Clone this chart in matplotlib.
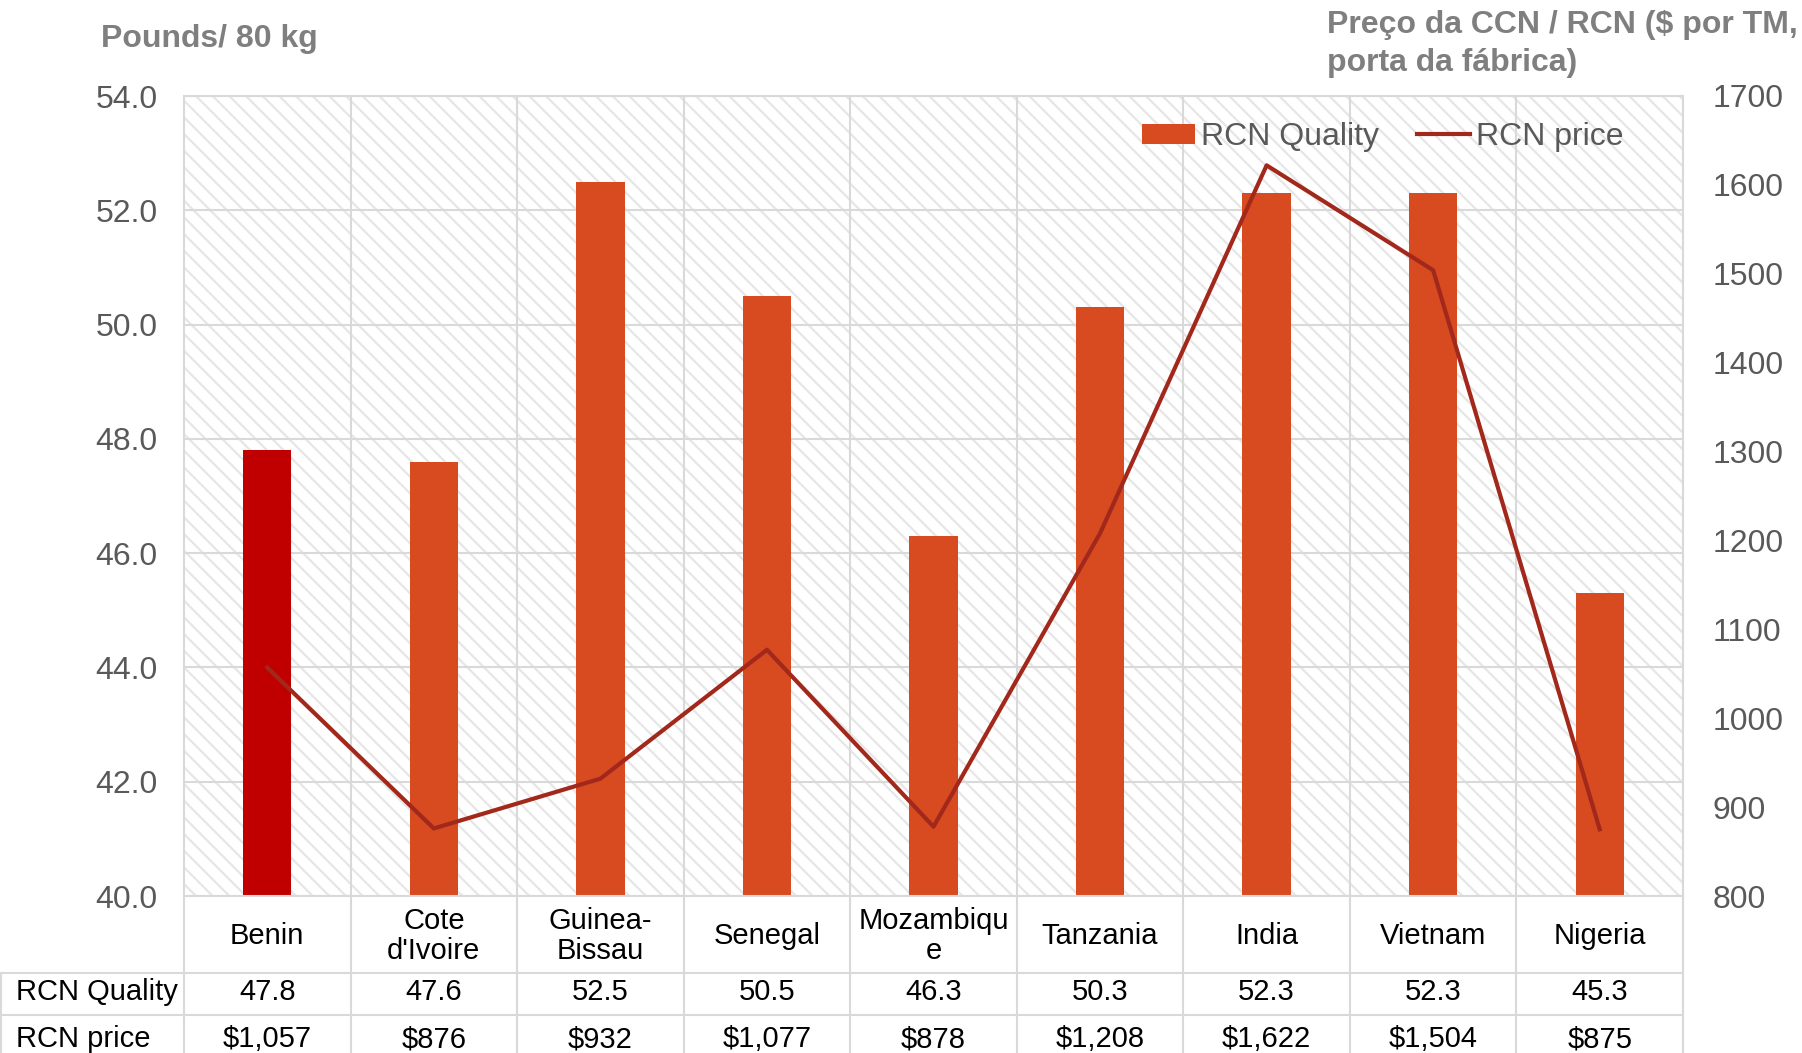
import numpy as np
import matplotlib
matplotlib.use("Agg")
import matplotlib.pyplot as plt
import matplotlib.transforms as mtransforms
from matplotlib.patches import Rectangle, Patch
from matplotlib.lines import Line2D

plt.rcParams['font.family'] = ['Liberation Sans', 'DejaVu Sans']
plt.rcParams['hatch.linewidth'] = 1.6

countries = ["Benin", "Cote\nd'Ivoire", "Guinea-\nBissau", "Senegal", "Mozambiqu\ne",
             "Tanzania", "India", "Vietnam", "Nigeria"]
quality = [47.8, 47.6, 52.5, 50.5, 46.3, 50.3, 52.3, 52.3, 45.3]
price = [1057, 876, 932, 1077, 878, 1208, 1622, 1504, 875]
row_names = ["RCN Quality", "RCN price"]

BAR_COL = '#D84A20'
HIGHLIGHT = '#C00000'
LINE_COL = '#A3281C'
GRID = '#d9d9d9'
TICK_COL = '#595959'
FS = 23
FS_TAB = 21

fig = plt.figure(figsize=(18.02, 10.53), dpi=100)
W, H = 1802, 1053
left, right, top, bottom = 184, 1683, 96, 896
ax = fig.add_axes([left / W, 1 - bottom / H, (right - left) / W, (bottom - top) / H])

x = np.arange(len(countries))

# hatched background
bg = Rectangle((0, 0), 1, 1, transform=ax.transAxes, facecolor='white',
               edgecolor='#e6e6e6', hatch='\\\\', lw=0, zorder=0)
ax.add_patch(bg)
ax.patch.set_visible(False)

colors = [HIGHLIGHT] + [BAR_COL] * (len(countries) - 1)
ax.bar(x, quality, width=0.29, color=colors, zorder=2)
ax.set_xlim(-0.5, len(countries) - 0.5)
ax.set_ylim(40, 54)
ax.set_yticks(np.arange(40, 54.1, 2))
ax.set_yticklabels([f"{v:.1f}" for v in np.arange(40, 54.1, 2)])
ax.set_xticks([])
ax.set_xticks(np.arange(0.5, len(countries) - 0.5, 1), minor=True)
ax.grid(axis='y', which='major', color=GRID, lw=1.5, zorder=1)
ax.grid(axis='x', which='minor', color=GRID, lw=1.5, zorder=1)
ax.set_axisbelow(True)
ax.tick_params(axis='y', length=0, pad=19, labelsize=FS, labelcolor=TICK_COL)
ax.tick_params(axis='x', which='both', length=0)
for s in ax.spines.values():
    s.set_color(GRID)
    s.set_linewidth(1.5)

ax2 = ax.twinx()
line, = ax2.plot(x, price, color=LINE_COL, lw=3, zorder=3)
ax2.set_ylim(800, 1700)
ax2.set_yticks(np.arange(800, 1701, 100))
ax2.tick_params(axis='y', length=0, pad=21, labelsize=FS, labelcolor=TICK_COL)
for s in ax2.spines.values():
    s.set_visible(False)

bar_handle = Patch(facecolor=BAR_COL)
ax2.legend([bar_handle, line], ["RCN Quality", "RCN price"], loc='center right',
           bbox_to_anchor=(1624 / W, 1 - 137 / H), bbox_transform=fig.transFigure,
           ncol=2, frameon=False, fontsize=FS, labelcolor=TICK_COL,
           handlelength=1.65, handleheight=0.6, handletextpad=0.2,
           columnspacing=1.2, borderaxespad=0, borderpad=0)

# axis titles
fig.text(101 / W, 1 - 39 / H, "Pounds/ 80 kg", fontsize=FS, fontweight='bold',
         color='#7f7f7f', va='center', ha='left')
fig.text(1327 / W, 1 - 10 / H, "Preço da CCN / RCN ($ por TM,\nporta da fábrica)",
         fontsize=FS, fontweight='bold', color='#7f7f7f', va='top', ha='left',
         linespacing=1.35)

# data table below the plot
blend = mtransforms.blended_transform_factory(ax.transData, fig.transFigure)
r1, r2 = 1 - 973 / H, 1 - 1015 / H
ybot = 1 - bottom / H
for yy in (r1, r2):
    fig.add_artist(Line2D([0, right / W], [yy, yy], color=GRID, lw=1.5))
fig.add_artist(Line2D([1 / W, 1 / W], [0, r1], color=GRID, lw=1.5))
for b in np.arange(-0.5, len(countries), 1):
    fig.add_artist(Line2D([b, b], [0, ybot], color=GRID, lw=1.5, transform=blend))

for i, c in enumerate(countries):
    fig.text(i, 1 - 936 / H, c, transform=blend, ha='center', va='center',
             fontsize=FS_TAB, linespacing=1.1)
    fig.text(i, 1 - 1000 / H, f"{quality[i]:.1f}", transform=blend, ha='center',
             va='baseline', fontsize=FS_TAB)
    fig.text(i, 1 - 1047 / H, f"${price[i]:,}", transform=blend, ha='center',
             va='baseline', fontsize=FS_TAB)

fig.text(16 / W, 1 - 1000 / H, row_names[0], ha='left', va='baseline', fontsize=FS_TAB)
fig.text(16 / W, 1 - 1047 / H, row_names[1], ha='left', va='baseline', fontsize=FS_TAB)

fig.savefig("out.png", dpi=100)
